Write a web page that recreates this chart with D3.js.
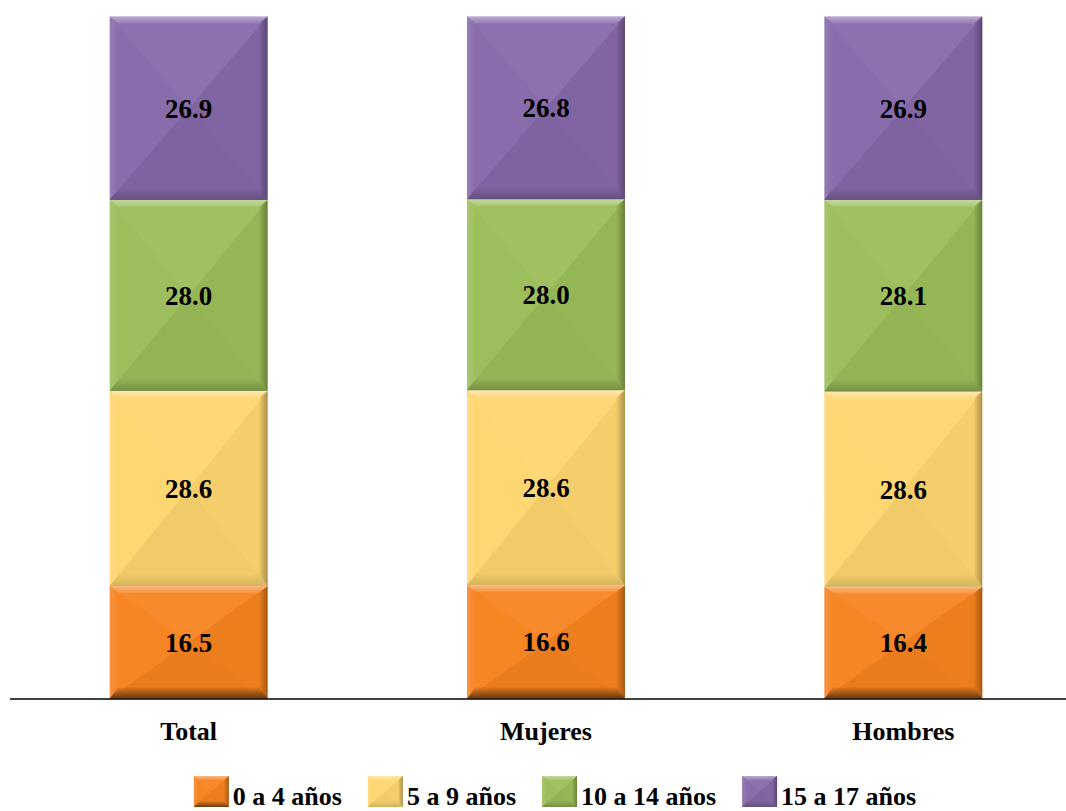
<!DOCTYPE html>
<html>
<head>
<meta charset="utf-8">
<script src="https://cdn.jsdelivr.net/npm/d3@7"></script>
<style>
  html, body { margin: 0; padding: 0; background: #ffffff; }
  svg { display: block; }
  text { font-family: "Liberation Serif", "Times New Roman", serif; font-weight: bold; }
</style>
</head>
<body>
<svg id="chart" width="1066" height="811"></svg>
<script>
// ---- data ----
const categories = ["Total", "Mujeres", "Hombres"];
const seriesNames = ["0 a 4 años", "5 a 9 años", "10 a 14 años", "15 a 17 años"];
const age0to4   = [16.5, 16.6, 16.4];
const age5to9   = [28.6, 28.6, 28.6];
const age10to14 = [28.0, 28.0, 28.1];
const age15to17 = [26.9, 26.8, 26.9];
const seriesValues = [age0to4, age5to9, age10to14, age15to17];
const seriesColors = ["#F6831F", "#FED56F", "#9BBD59", "#8669A9"];
const bottomShade = [0.55, 0.12, 0.2, 0.2];

// ---- layout ----
const svg = d3.select("#chart");
const x = d3.scaleBand().domain(categories).range([10, 1082]).paddingInner(0.558).paddingOuter(0.279);
const y = d3.scaleLinear().domain([0, 100]).range([698.5, 16.5]);

// ---- gradients for bevel effect ----
const defs = svg.append("defs");
function lin(id, x1, y1, x2, y2, stops) {
  const g = defs.append("linearGradient").attr("id", id)
    .attr("x1", x1).attr("y1", y1).attr("x2", x2).attr("y2", y2);
  stops.forEach(s => g.append("stop").attr("offset", s[0]).attr("stop-color", s[1]).attr("stop-opacity", s[2]));
}
lin("topHi", 0, 0, 0, 1, [[0, "#ffffff", 0.4], [1, "#ffffff", 0.08]]);
bottomShade.forEach((o, i) => lin("botSh" + i, 0, 0, 0, 1, [[0, "#000000", 0.0], [1, "#000000", o]]));
lin("rightSh", 0, 0, 1, 0, [[0, "#000000", 0.0], [1, "#000000", 0.3]]);
lin("leftHi", 0, 0, 1, 0, [[0, "#ffffff", 0.12], [1, "#ffffff", 0.0]]);

function bevel(g, x0, y0, w, h, color, si, dTop, dBot, dSide) {
  const x1 = x0 + w, y1 = y0 + h, cx = x0 + w / 2, cy = y0 + h / 2;
  g.append("rect").attr("x", x0).attr("y", y0).attr("width", w).attr("height", h).attr("fill", color);
  const P = pts => pts.map(p => p.join(",")).join(" ");
  // facets (corner to centre)
  g.append("polygon").attr("points", P([[x0, y0], [x1, y0], [cx, cy]])).attr("fill", "#ffffff").attr("fill-opacity", 0.06);
  g.append("polygon").attr("points", P([[x0, y0], [cx, cy], [x0, y1]])).attr("fill", "#ffffff").attr("fill-opacity", 0.025);
  g.append("polygon").attr("points", P([[x1, y0], [x1, y1], [cx, cy]])).attr("fill", "#000000").attr("fill-opacity", 0.035);
  g.append("polygon").attr("points", P([[x0, y1], [cx, cy], [x1, y1]])).attr("fill", "#000000").attr("fill-opacity", 0.05);
  // edge strips
  g.append("polygon").attr("points", P([[x0, y0], [x1, y0], [x1 - dSide, y0 + dTop], [x0 + dSide, y0 + dTop]])).attr("fill", "url(#topHi)");
  g.append("polygon").attr("points", P([[x0 + dSide, y1 - dBot], [x1 - dSide, y1 - dBot], [x1, y1], [x0, y1]])).attr("fill", `url(#botSh${si})`);
  g.append("polygon").attr("points", P([[x1 - dSide, y0 + dTop], [x1, y0], [x1, y1], [x1 - dSide, y1 - dBot]])).attr("fill", "url(#rightSh)");
  g.append("polygon").attr("points", P([[x0, y0], [x0 + dSide, y0 + dTop], [x0 + dSide, y1 - dBot], [x0, y1]])).attr("fill", "url(#leftHi)");
}

// ---- stacked bars ----
const stackData = categories.map((c, i) => {
  const o = { cat: c };
  seriesNames.forEach((s, j) => o[s] = seriesValues[j][i]);
  return o;
});
const stacked = d3.stack().keys(seriesNames)(stackData);

const barsG = svg.append("g");
stacked.forEach((layer, si) => {
  layer.forEach(d => {
    const g = barsG.append("g");
    const x0 = x(d.data.cat), w = x.bandwidth();
    const yTop = y(d[1]), yBot = y(d[0]);
    bevel(g, x0, yTop, w, yBot - yTop, seriesColors[si], si, 7, 12, 9);
  });
});

// value labels
const fmt = d3.format(".1f");
stacked.forEach((layer) => {
  layer.forEach(d => {
    svg.append("text")
      .attr("x", x(d.data.cat) + x.bandwidth() / 2)
      .attr("y", (y(d[0]) + y(d[1])) / 2)
      .attr("dy", "0.35em")
      .attr("text-anchor", "middle")
      .attr("font-size", 27)
      .attr("fill", "#000")
      .text(fmt(d[1] - d[0]));
  });
});

// ---- axis ----
const xAxis = d3.axisBottom(x).tickSize(0).tickPadding(0);
const axG = svg.append("g").attr("transform", `translate(0,${y(0)})`).call(xAxis);
axG.select(".domain").attr("d", `M10,0.5H1066`).attr("stroke", "#000").attr("stroke-width", 1.4);
axG.selectAll(".tick text")
  .attr("y", 41).attr("dy", 0)
  .attr("font-size", 26)
  .attr("font-family", "Liberation Serif, Times New Roman, serif")
  .attr("font-weight", "bold")
  .attr("fill", "#000");

// ---- legend ----
const legG = svg.append("g");
const swW = 35, swH = 31, gapT = 4, gapItem = 26;
const items = [];
seriesNames.forEach((s, i) => {
  const g = legG.append("g");
  bevel(g, 0, 0, swW, swH, seriesColors[i], i, 4, 6, 5);
  const t = g.append("text").attr("x", swW + gapT).attr("y", 29)
    .attr("font-size", 26).attr("fill", "#000").text(s);
  const tw = t.node().getComputedTextLength();
  items.push({ g, w: swW + gapT + tw });
});
const totalW = d3.sum(items, d => d.w) + gapItem * (items.length - 1);
let cursor = 555 - totalW / 2;
items.forEach(it => {
  it.g.attr("transform", `translate(${cursor},776)`);
  cursor += it.w + gapItem;
});
</script>
</body>
</html>
